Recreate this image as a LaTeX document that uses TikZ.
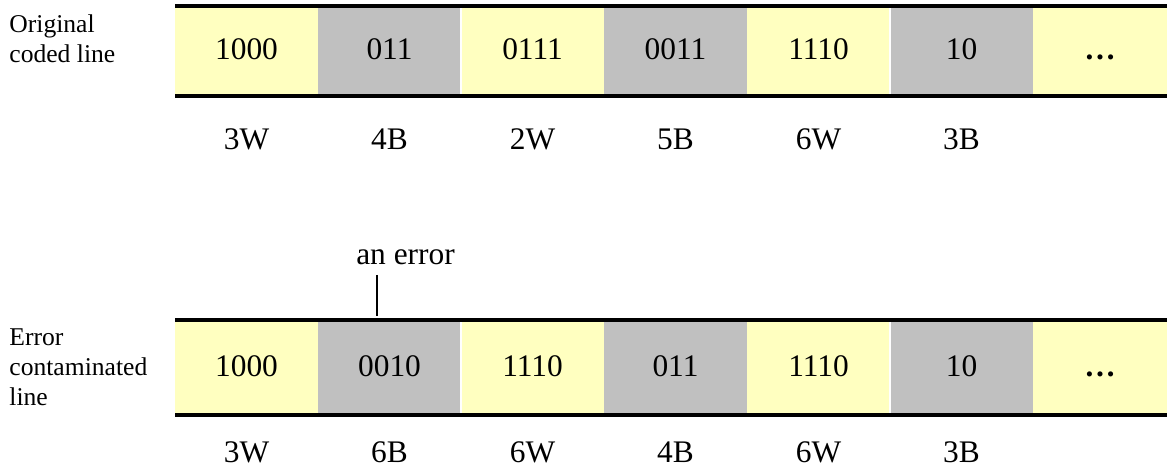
\documentclass[tikz,border=0pt]{standalone}
\usepackage{fontspec}
\setmainfont{Liberation Serif}
\usetikzlibrary{calc}
\definecolor{cellyellow}{HTML}{FFFFC0}
\definecolor{cellgray}{HTML}{C0C0C0}
\begin{document}
\begin{tikzpicture}[x=0.5pt,y=-0.5pt,
  numfont/.style={font=\fontsize{15.7}{18}\selectfont},
  cell/.style={numfont, minimum width=71.5pt, inner sep=0pt, outer sep=0pt, draw=none, text depth=1.5pt},
  topcell/.style={cell, minimum height=45pt},
  botcell/.style={cell, minimum height=47.5pt},
  wcell/.style={fill=cellyellow},
  bcell/.style={fill=cellgray},
  bar/.style={line width=2pt},
  sep/.style={white, line width=0.8pt},
  runlab/.style={numfont, anchor=base, inner sep=0pt},
  side/.style={font=\fontsize{12.8}{15}\selectfont, align=left, anchor=north west, inner sep=0pt}]
\useasboundingbox (0,0) rectangle (1167,475);

% ---- top line ----
\node[side] (lab1) at (9,14) {Original\\coded line};
\node[topcell,wcell] (t1) at (246.5,51) {1000};
\node[topcell,bcell] (t2) at (389.5,51) {011};
\node[topcell,wcell] (t3) at (532.5,51) {0111};
\node[topcell,bcell] (t4) at (675.5,51) {0011};
\node[topcell,wcell] (t5) at (818.5,51) {1110};
\node[topcell,bcell] (t6) at (961.5,51) {10};
\node[topcell,wcell,minimum width=67pt] (t7) at (1100,51) {\vphantom{0}\textbf{…}};
\draw[sep] (t2.north east) -- (t2.south east);
\draw[sep] (t5.north east) -- (t5.south east);
\draw[bar] (t1.north west) -- (t7.north east);
\draw[bar] (t1.south west) -- (t7.south east);

\node[runlab] (r1) at (246.5,150) {3W};
\node[runlab] (r2) at (389.5,150) {4B};
\node[runlab] (r3) at (532.5,150) {2W};
\node[runlab] (r4) at (675.5,150) {5B};
\node[runlab] (r5) at (818.5,150) {6W};
\node[runlab] (r6) at (961.5,150) {3B};

% ---- bottom line ----
\node[side] (lab2) at (9,328.5) {Error\\contaminated\\line};
\node[botcell,wcell] (b1) at (246.5,367.5) {1000};
\node[botcell,bcell] (b2) at (389.5,367.5) {0010};
\node[botcell,wcell] (b3) at (532.5,367.5) {1110};
\node[botcell,bcell] (b4) at (675.5,367.5) {011};
\node[botcell,wcell] (b5) at (818.5,367.5) {1110};
\node[botcell,bcell] (b6) at (961.5,367.5) {10};
\node[botcell,wcell,minimum width=67pt] (b7) at (1100,367.5) {\vphantom{0}\textbf{…}};
\draw[sep] (b2.north east) -- (b2.south east);
\draw[sep] (b5.north east) -- (b5.south east);
\draw[bar] (b1.north west) -- (b7.north east);
\draw[bar] (b1.south west) -- (b7.south east);

\node[runlab] (s1) at (246.5,463) {3W};
\node[runlab] (s2) at (389.5,463) {6B};
\node[runlab] (s3) at (532.5,463) {6W};
\node[runlab] (s4) at (675.5,463) {4B};
\node[runlab] (s5) at (818.5,463) {6W};
\node[runlab] (s6) at (961.5,463) {3B};

% ---- error marker ----
\node[runlab] (err) at (405.5,265) {an error};
\coordinate (errtop) at (377,275);
\coordinate (errbot) at (377,316);
\draw[line width=1.2pt] (errtop) -- (errbot);
\end{tikzpicture}
\end{document}
